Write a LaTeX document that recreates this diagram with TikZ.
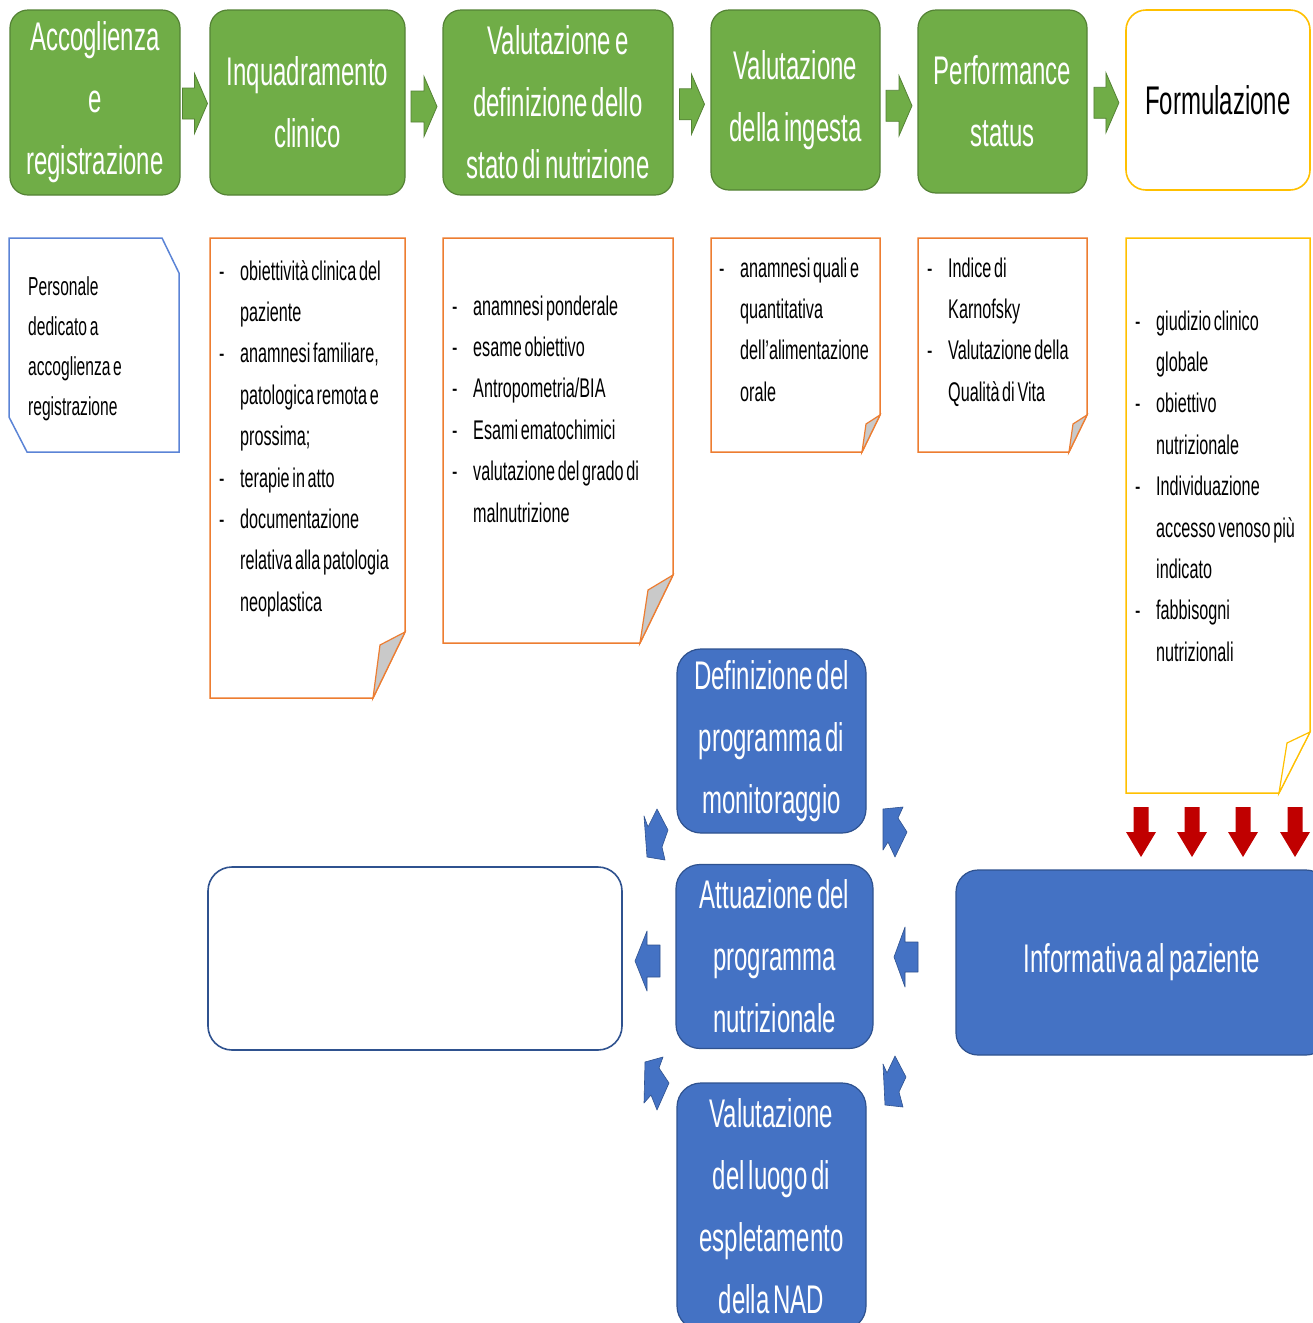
\documentclass[tikz,border=0pt]{standalone}
\usepackage{fontspec}
\setmainfont{Liberation Sans}[FakeStretch=0.6,WordSpace=0.6]
\usetikzlibrary{calc}
\definecolor{gfill}{HTML}{70AD47}
\definecolor{gline}{HTML}{548235}
\definecolor{bfill}{HTML}{4472C4}
\definecolor{bline}{HTML}{2F528F}
\definecolor{oline}{HTML}{ED7D31}
\definecolor{yline}{HTML}{FFC000}
\definecolor{nblue}{HTML}{5B84D6}
\definecolor{foldgray}{HTML}{C9C9C9}
\definecolor{redarr}{HTML}{C00000}
\newcommand\nbul[1]{\makebox[21pt][l]{-}#1}
\newcommand\ncont[1]{\hspace*{21pt}#1}
\newcommand\notelines[1]{\parbox[t]{300pt}{\raggedright #1}}
% block arrow: #1 centre coord, #2 angle, #3 length, #4 head length, #5 shaft half width, #6 head half width, #7 style
\newcommand\blockarr[7]{%
  \path[#7, shift={#1}, rotate=#2]
    ({-#3/2},{-#5}) -- ({#3/2-#4},{-#5}) -- ({#3/2-#4},{-#6}) -- ({#3/2},0)
    -- ({#3/2-#4},{#6}) -- ({#3/2-#4},{#5}) -- ({-#3/2},{#5}) -- cycle;}
\begin{document}
\begin{tikzpicture}[x=1pt,y=-1pt,
  gbox/.style={draw=gline, line width=1.2pt, fill=gfill, rounded corners=18pt,
    text=white, align=center, font=\fontsize{40}{62}\selectfont, inner sep=0pt},
  ybox/.style={draw=yline, line width=1.6pt, fill=white, rounded corners=20pt,
    text=black, align=center, font=\fontsize{40}{62}\selectfont, inner sep=0pt},
  bbox/.style={draw=bline, line width=1.2pt, fill=bfill, rounded corners=24pt,
    text=white, align=center, font=\fontsize{40}{62}\selectfont, inner sep=0pt},
  wbox/.style={draw=bline, line width=1.6pt, fill=white, rounded corners=24pt, inner sep=0pt},
  ntext/.style={anchor=base west, inner sep=0pt,
    font=\fontsize{27}{41.4}\selectfont, text=black},
  onote/.style={draw=oline, line width=1.5pt, fill=white},
  ynote/.style={draw=yline, line width=1.5pt, fill=white},
  garr/.style={fill=gfill, draw=gline, line width=0.8pt},
  barr/.style={fill=bfill, draw=bline, line width=0.6pt, line join=round},
  rarr/.style={fill=redarr},
]
\path[use as bounding box, fill=white] (0,0) rectangle (1313,1323);
\begin{scope}
\clip (0,0) rectangle (1313,1323);

% ---------- top row ----------
\node[gbox, minimum width=170pt, minimum height=185pt] (g1) at (95,102.5) {Accoglienza\\e\\registrazione};
\node[gbox, minimum width=195pt, minimum height=185pt] (g2) at (307.5,102.5) {Inquadramento\\clinico};
\node[gbox, minimum width=230pt, minimum height=185pt] (g3) at (558,102.5) {Valutazione e\\definizione dello\\stato di nutrizione};
\node[gbox, minimum width=169pt, minimum height=180pt] (g4) at (795.5,100) {Valutazione\\della ingesta};
\node[gbox, minimum width=169pt, minimum height=183pt] (g5) at (1002.5,101.5) {Performance\\status};
\node[ybox, minimum width=184pt, minimum height=180pt] (g6) at (1218,100) {Formulazione};

\blockarr{($(g1.east)!0.5!(g2.west)+(0,1)$)}{0}{25}{13}{15.5}{30}{garr}
\blockarr{($(g2.east)!0.5!(g3.west)+(0,4)$)}{0}{26}{13}{15.5}{30}{garr}
\blockarr{($(g3.east)!0.5!(g4.west)+(0,3)$)}{0}{25}{13}{15.5}{30}{garr}
\blockarr{($(g4.east)!0.5!(g5.west)+(0,5)$)}{0}{26}{13}{15.5}{30}{garr}
\blockarr{($(g5.east)!0.5!(g6.west)+(0,2)$)}{0}{25}{13}{15.5}{30}{garr}

% ---------- notes ----------
\draw[draw=nblue, line width=1.5pt, fill=white] (9,238) -- (162,238) -- (179,273) -- (179,452) -- (27,452) -- (9,417) -- cycle;
\node[ntext, font=\fontsize{26}{40}\selectfont] (t1) at (28,295) {\notelines{Personale\\dedicato a\\accoglienza e\\registrazione}};

\draw[onote] (210,238) -- (405,238) -- (405,632) -- (373,698) -- (210,698) -- cycle;
\draw[onote, fill=foldgray, line width=1.2pt] (405,632) -- (380,645) -- (373,698) -- cycle;
\node[ntext] (t2) at (219,280) {\notelines{\nbul{obiettività clinica del}\\\ncont{paziente}\\\nbul{anamnesi familiare,}\\\ncont{patologica remota e}\\\ncont{prossima;}\\\nbul{terapie in atto}\\\nbul{documentazione}\\\ncont{relativa alla patologia}\\\ncont{neoplastica}}};

\draw[onote] (443,238) -- (673,238) -- (673,575) -- (640,643) -- (443,643) -- cycle;
\draw[onote, fill=foldgray, line width=1.2pt] (673,575) -- (648,590) -- (640,643) -- cycle;
\node[ntext] (t3) at (452,315) {\notelines{\nbul{anamnesi ponderale}\\\nbul{esame obiettivo}\\\nbul{Antropometria/BIA}\\\nbul{Esami ematochimici}\\\nbul{valutazione del grado di}\\\ncont{malnutrizione}}};

\draw[onote] (711,238) -- (880,238) -- (880,415) -- (862,452) -- (711,452) -- cycle;
\draw[onote, fill=foldgray, line width=1.2pt] (880,415) -- (866,424) -- (862,452) -- cycle;
\node[ntext] (t4) at (719,277) {\notelines{\nbul{anamnesi quali e}\\\ncont{quantitativa}\\\ncont{dell’alimentazione}\\\ncont{orale}}};

\draw[onote] (918,238) -- (1087,238) -- (1087,415) -- (1069,452) -- (918,452) -- cycle;
\draw[onote, fill=foldgray, line width=1.2pt] (1087,415) -- (1073,424) -- (1069,452) -- cycle;
\node[ntext] (t5) at (927,277) {\notelines{\nbul{Indice di}\\\ncont{Karnofsky}\\\nbul{Valutazione della}\\\ncont{Qualità di Vita}}};

\draw[ynote] (1126,238) -- (1310,238) -- (1310,732) -- (1279,793) -- (1126,793) -- cycle;
\draw[ynote, line width=1.2pt] (1310,732) -- (1287,743) -- (1279,793) -- cycle;
\node[ntext] (t6) at (1135,330) {\notelines{\nbul{giudizio clinico}\\\ncont{globale}\\\nbul{obiettivo}\\\ncont{nutrizionale}\\\nbul{Individuazione}\\\ncont{accesso venoso più}\\\ncont{indicato}\\\nbul{fabbisogni}\\\ncont{nutrizionali}}};

% ---------- bottom part ----------
\node[bbox, minimum width=189pt, minimum height=184pt] (b1) at (771.5,741) {Definizione del\\programma di\\monitoraggio};
\node[bbox, minimum width=197pt, minimum height=184pt] (b2) at (774.5,956.5) {Attuazione del\\programma\\nutrizionale};
\node[bbox, minimum width=189pt, minimum height=247pt] (b3) at (771.5,1206.5) {Valutazione\\del luogo di\\espletamento\\della NAD};
\node[bbox, rounded corners=22pt, minimum width=372pt, minimum height=185pt] (info) at (1142,962.5) {Informativa al paziente};
\node[wbox, minimum width=414pt, minimum height=183pt] (wb) at (415,958.5) {};

% red arrows down to Informativa
\blockarr{(1141,832)}{-90}{50}{25}{7.5}{15}{rarr}
\blockarr{(1192,832)}{-90}{50}{25}{7.5}{15}{rarr}
\blockarr{(1243,832)}{-90}{50}{25}{7.5}{15}{rarr}
\blockarr{(1295,832)}{-90}{50}{25}{7.5}{15}{rarr}

% blue arrows (horizontal)
\blockarr{(647.5,961)}{180}{25}{12}{16}{30}{barr}
\blockarr{(906,957)}{180}{24}{11}{15}{30}{barr}
% blue arrows (diagonal, small)
\path[barr] (644,816) -- (648,827) -- (657,809) -- (668,830) -- (662,847) -- (665,860) -- (647,857) -- cycle;
\path[barr] (883,809) -- (903,807) -- (898,818) -- (907,832) -- (895,857) -- (888,842) -- (883,850) -- cycle;
\path[barr] (645,1062) -- (663,1057) -- (659,1068) -- (669,1083) -- (657,1110) -- (651,1095) -- (644,1103) -- cycle;
\path[barr] (883,1064) -- (887,1073) -- (895,1056) -- (906,1077) -- (899,1092) -- (903,1107) -- (885,1105) -- cycle;
\end{scope}
\end{tikzpicture}
\end{document}
